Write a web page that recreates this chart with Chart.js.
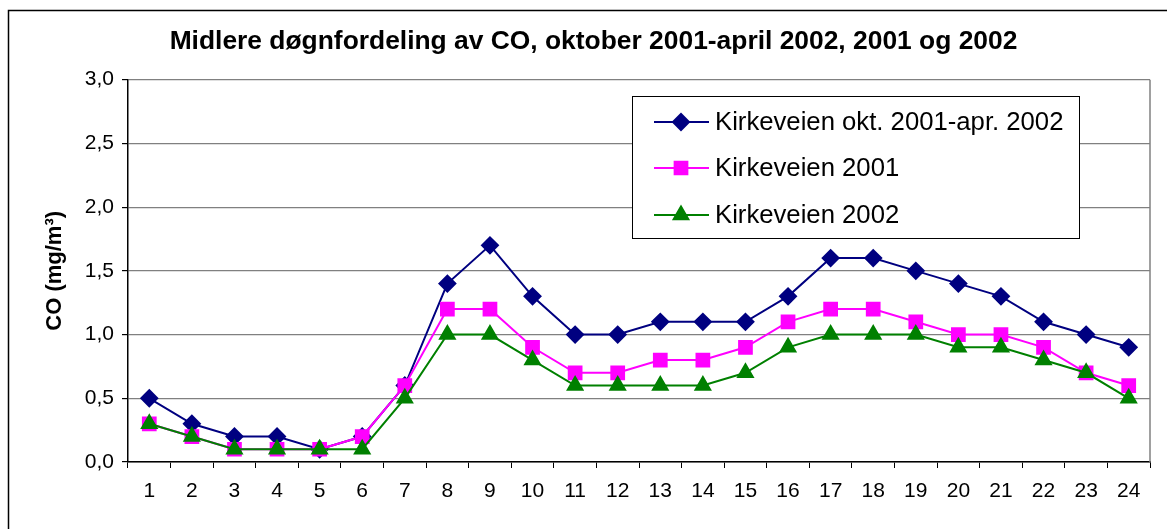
<!DOCTYPE html>
<html>
<head>
<meta charset="utf-8">
<script src="https://cdn.jsdelivr.net/npm/chart.js@4"></script>
<style>
  html, body { margin: 0; padding: 0; background: #fff; }
  #wrap { width: 1167px; height: 529px; position: relative; }
</style>
</head>
<body>
<div id="wrap"><canvas id="myChart" width="1167" height="529"></canvas></div>
<script>
// hours of the day
var hours = ['1','2','3','4','5','6','7','8','9','10','11','12','13','14','15','16','17','18','19','20','21','22','23','24'];

// CO (mg/m3), Kirkeveien
var kirkeveienOktApr = [0.5, 0.3, 0.2, 0.2, 0.1, 0.2, 0.6, 1.4, 1.7, 1.3, 1.0, 1.0, 1.1, 1.1, 1.1, 1.3, 1.6, 1.6, 1.5, 1.4, 1.3, 1.1, 1.0, 0.9];
var kirkeveien2001 = [0.3, 0.2, 0.1, 0.1, 0.1, 0.2, 0.6, 1.2, 1.2, 0.9, 0.7, 0.7, 0.8, 0.8, 0.9, 1.1, 1.2, 1.2, 1.1, 1.0, 1.0, 0.9, 0.7, 0.6];
var kirkeveien2002 = [0.3, 0.2, 0.1, 0.1, 0.1, 0.1, 0.5, 1.0, 1.0, 0.8, 0.6, 0.6, 0.6, 0.6, 0.7, 0.9, 1.0, 1.0, 1.0, 0.9, 0.9, 0.8, 0.7, 0.5];

var seriesLabels = ['Kirkeveien okt. 2001-apr. 2002', 'Kirkeveien 2001', 'Kirkeveien 2002'];
var chartTitle = 'Midlere døgnfordeling av CO, oktober 2001-april 2002, 2001 og 2002';
var yTitle = 'CO (mg/m³)';

var FONT = "'Liberation Sans', Arial, sans-serif";

// frame, plot border and the boxed legend
var framePlugin = {
  id: 'frame',
  afterDraw: function (chart) {
    var ctx = chart.ctx;
    var area = chart.chartArea;
    ctx.save();
    // outer frame (top + left)
    ctx.strokeStyle = '#000';
    ctx.lineWidth = 1.5;
    ctx.beginPath();
    ctx.moveTo(8.5, 540);
    ctx.lineTo(8.5, 10.5);
    ctx.lineTo(1180, 10.5);
    ctx.stroke();
    // right border of plot
    ctx.strokeStyle = '#808080';
    ctx.lineWidth = 1.5;
    ctx.beginPath();
    ctx.moveTo(area.right, area.top);
    ctx.lineTo(area.right, area.bottom);
    ctx.stroke();

    // legend
    var lx = 632, ly = 96, lw = 447, lh = 142;
    ctx.fillStyle = '#fff';
    ctx.fillRect(lx, ly, lw, lh);
    ctx.strokeStyle = '#000';
    ctx.lineWidth = 1;
    ctx.strokeRect(lx + 0.5, ly + 0.5, lw, lh);
    var rows = [122, 168, 215];
    ctx.font = '25.7px ' + FONT;
    ctx.textBaseline = 'middle';
    chart.data.datasets.forEach(function (ds, i) {
      var y = rows[i];
      ctx.strokeStyle = ds.borderColor;
      ctx.lineWidth = 2;
      ctx.beginPath();
      ctx.moveTo(654, y);
      ctx.lineTo(709, y);
      ctx.stroke();
      Chart.helpers.drawPoint(ctx, {
        pointStyle: ds.pointStyle,
        radius: ds.pointRadius,
        borderWidth: 1,
        rotation: 0
      }, 681, y);
      ctx.fillStyle = ds.pointBackgroundColor;
      ctx.strokeStyle = ds.pointBorderColor;
      ctx.fill();
      ctx.fillStyle = '#000';
      ctx.fillText(ds.label, 715, y + 1);
    });
    ctx.restore();
  }
};

var ctx = document.getElementById('myChart').getContext('2d');
var myChart = new Chart(ctx, {
  type: 'line',
  data: {
    labels: hours,
    datasets: [{
      label: seriesLabels[0],
      data: kirkeveienOktApr,
      borderColor: '#000080',
      backgroundColor: '#000080',
      pointBackgroundColor: '#000080',
      pointBorderColor: '#000080',
      pointStyle: 'rectRot',
      pointRadius: 8,
      borderWidth: 2,
      order: 3
    }, {
      label: seriesLabels[1],
      data: kirkeveien2001,
      borderColor: '#ff00ff',
      backgroundColor: '#ff00ff',
      pointBackgroundColor: '#ff00ff',
      pointBorderColor: '#ff00ff',
      pointStyle: 'rect',
      pointRadius: 9,
      borderWidth: 2,
      order: 2
    }, {
      label: seriesLabels[2],
      data: kirkeveien2002,
      borderColor: '#008000',
      backgroundColor: '#008000',
      pointBackgroundColor: '#008000',
      pointBorderColor: '#008000',
      pointStyle: 'triangle',
      pointRadius: 8.5,
      borderWidth: 2,
      order: 1
    }]
  },
  options: {
    responsive: false,
    animation: false,
    layout: { padding: { left: 37, right: 17, top: 0, bottom: 0 } },
    plugins: {
      legend: { display: false },
      tooltip: { enabled: false },
      title: {
        display: true,
        text: chartTitle,
        color: '#000',
        font: { family: FONT, size: 26.4, weight: 'bold' },
        padding: { top: 26, bottom: 22 }
      }
    },
    elements: {
      line: { tension: 0 },
      point: { borderWidth: 1 }
    },
    scales: {
      x: {
        offset: true,
        afterFit: function (scale) { scale.height = 67; },
        grid: {
          offset: true,
          drawOnChartArea: false,
          drawTicks: true,
          tickLength: 6,
          color: '#000'
        },
        border: { color: '#000', width: 1.5 },
        ticks: {
          color: '#000',
          padding: 11,
          maxRotation: 0,
          autoSkip: false,
          font: { family: FONT, size: 21 }
        }
      },
      y: {
        min: 0,
        max: 3,
        afterFit: function (scale) { scale.width = 91; },
        grid: {
          color: '#808080',
          lineWidth: 1.2,
          drawTicks: true,
          tickLength: 6,
          tickColor: '#000'
        },
        border: { color: '#000', width: 1.5 },
        ticks: {
          stepSize: 0.5,
          color: '#000',
          padding: 8,
          font: { family: FONT, size: 21 },
          callback: function (v) { return v.toFixed(1).replace('.', ','); }
        },
        title: {
          display: true,
          text: yTitle,
          color: '#000',
          font: { family: FONT, size: 22, weight: 'bold' },
          padding: { top: 5, bottom: 0 }
        }
      }
    }
  },
  plugins: [framePlugin]
});
</script>
</body>
</html>
